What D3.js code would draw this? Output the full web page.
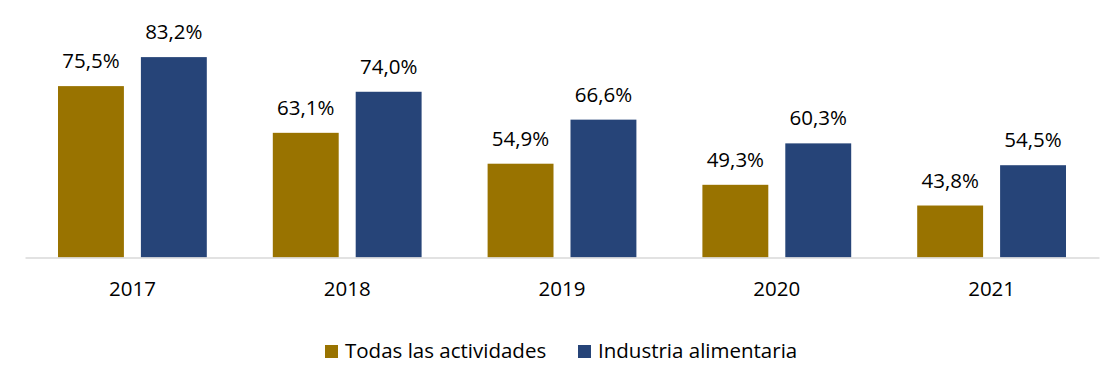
<!DOCTYPE html>
<html>
<head>
<meta charset="utf-8">
<script src="https://cdn.jsdelivr.net/npm/d3@7"></script>
<style>
  body { margin: 0; background: #fff; }
  text { font-family: "Open Sans", sans-serif; fill: #000; }
</style>
</head>
<body>
<div id="chart"></div>
<script>
// data
const years = ["2017", "2018", "2019", "2020", "2021"];
const series = ["Todas las actividades", "Industria alimentaria"];
const todas = [75.5, 63.1, 54.9, 49.3, 43.8];
const industria = [83.2, 74.0, 66.6, 60.3, 54.5];
const colors = ["#997300", "#264478"];

const width = 1120, height = 368;
const plot = {left: 25, right: 1099, base: 257.5, top: 31.5};

const svg = d3.select("#chart").append("svg")
    .attr("width", width)
    .attr("height", height);

const x0 = d3.scaleBand()
    .domain(years)
    .range([plot.left, plot.right]);

const x1 = d3.scaleBand()
    .domain(series)
    .range([33, x0.bandwidth() - 33])
    .paddingInner(0.205);

const y = d3.scaleLinear()
    .domain([30, 90])
    .range([plot.base, plot.top]);

const values = [todas, industria];
const fmt = v => v.toFixed(1).replace(".", ",") + "%";

series.forEach((s, si) => {
    const g = svg.append("g");
    g.selectAll("rect")
        .data(years)
        .join("rect")
            .attr("x", d => x0(d) + x1(s))
            .attr("y", (d, i) => y(values[si][i]))
            .attr("width", x1.bandwidth())
            .attr("height", (d, i) => plot.base - y(values[si][i]))
            .attr("fill", colors[si]);

    g.selectAll("text")
        .data(years)
        .join("text")
            .attr("x", d => x0(d) + x1(s) + x1.bandwidth() / 2)
            .attr("y", (d, i) => y(values[si][i]) - 18)
            .attr("text-anchor", "middle")
            .attr("font-size", "20.5px")
            .text((d, i) => fmt(values[si][i]));
});

// baseline + year labels
const xAxis = svg.append("g")
    .attr("transform", "translate(0," + plot.base + ")")
    .call(d3.axisBottom(x0).tickSize(0).tickPadding(24));
xAxis.select(".domain")
    .attr("stroke", "#d9d9d9")
    .attr("stroke-width", 1.5);
xAxis.selectAll(".tick text")
    .attr("font-size", "20.5px")
    .attr("font-family", "Open Sans, sans-serif")
    .attr("fill", "#000");

// legend
const legend = svg.append("g")
    .attr("transform", "translate(325,0)");
const legendX = [0, 253];
series.forEach((s, i) => {
    const item = legend.append("g").attr("transform", "translate(" + legendX[i] + ",0)");
    item.append("rect")
        .attr("x", 0).attr("y", 345)
        .attr("width", 13).attr("height", 13)
        .attr("fill", colors[i]);
    item.append("text")
        .attr("x", 20).attr("y", 358)
        .attr("font-size", "20.5px")
        .text(s);
});
</script>
</body>
</html>
